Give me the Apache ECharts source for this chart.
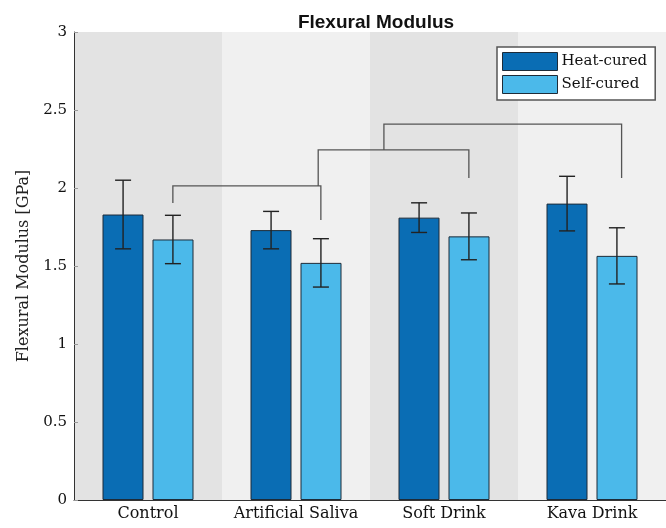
<!DOCTYPE html>
<html>
<head>
<meta charset="utf-8">
<script src="https://cdn.jsdelivr.net/npm/echarts@6/dist/echarts.min.js"></script>
<style>
  html, body { margin: 0; padding: 0; background: #ffffff; }
  #chart { width: 666px; height: 528px; }
</style>
</head>
<body>
<div id="chart"></div>
<script>
// Flexural modulus (GPa) by storage medium, mean with error bars
const categories = ['Control', 'Artificial Saliva', 'Soft Drink', 'Kava Drink'];
const seriesNames = ['Heat-cured', 'Self-cured'];
const heatCured = [1.83, 1.73, 1.81, 1.90];
const heatCuredErr = [0.22, 0.12, 0.095, 0.175];
const selfCured = [1.67, 1.52, 1.69, 1.565];
const selfCuredErr = [0.155, 0.155, 0.15, 0.18];
const yTicks = [0, 0.5, 1, 1.5, 2, 2.5, 3];

// Significance brackets: [xLeft, xRight, yTop, yLeftEnd, yRightEnd]
// x in category units (0 = first category centre)
const brackets = [
  [0.168, 1.168, 2.013, 1.904, 1.795],
  [1.15, 2.168, 2.244, 2.013, 2.064],
  [1.594, 3.2, 2.41, 2.244, 2.064]
];

const colors = ['#0a6db4', '#4bb9ea'];
const serif = '"DejaVu Serif", "Liberation Serif", serif';

const barWidth = 41;
const barGap = 9;
const catWidth = 148.5;
const barOffset = (barWidth + barGap) / 2 / catWidth;

function errData(vals, errs, sign) {
  return vals.map((v, i) => [i + sign * barOffset, v - errs[i], v + errs[i]]);
}

const chart = echarts.init(document.getElementById('chart'), null, { renderer: 'canvas' });

chart.setOption({
  backgroundColor: '#ffffff',
  animation: false,
  title: {
    text: 'Flexural Modulus',
    left: 371,
    top: 8,
    textAlign: 'center',
    textStyle: { fontFamily: '"Liberation Sans", Arial, sans-serif', fontWeight: 'bold', fontSize: 19, color: '#111' }
  },
  legend: {
    data: seriesNames,
    orient: 'vertical',
    left: 497,
    top: 47,
    icon: 'rect',
    itemWidth: 55,
    itemHeight: 18,
    itemGap: 4,
    padding: [5, 8, 6, 5],
    backgroundColor: '#ffffff',
    borderColor: '#555',
    borderWidth: 1.5,
    borderRadius: 0,
    textStyle: { fontFamily: serif, fontSize: 15, color: '#111', padding: [0, 0, 0, -1] },
    itemStyle: { borderColor: '#1d2b38', borderWidth: 1 }
  },
  grid: { left: 74, right: 0, top: 32, bottom: 28, containLabel: false },
  xAxis: [
    {
      type: 'category',
      data: categories,
      axisLine: { show: true, lineStyle: { color: '#333', width: 1 } },
      axisTick: { show: false },
      axisLabel: { fontFamily: serif, fontSize: 16, color: '#111', margin: 6, interval: 0 },
      splitArea: { show: true, areaStyle: { color: ['#e3e3e3', '#f0f0f0'] } },
      splitLine: { show: false }
    },
    {
      type: 'value',
      min: -0.5,
      max: 3.5,
      show: false
    }
  ],
  yAxis: {
    type: 'value',
    min: yTicks[0],
    max: yTicks[yTicks.length - 1],
    interval: 0.5,
    name: 'Flexural Modulus [GPa]',
    nameLocation: 'middle',
    nameGap: 34,
    nameTextStyle: { fontFamily: serif, fontSize: 16, color: '#222' },
    axisLine: { show: true, onZero: false, lineStyle: { color: '#333', width: 1 } },
    axisTick: { show: true, inside: true, length: 4, lineStyle: { color: '#999' } },
    axisLabel: { fontFamily: serif, fontSize: 15, color: '#111', margin: 7 },
    splitLine: { show: false }
  },
  series: [
    {
      name: seriesNames[0],
      type: 'bar',
      data: heatCured,
      barWidth: barWidth,
      barGap: (barGap / barWidth * 100) + '%',
      itemStyle: { color: colors[0], borderColor: '#1d2b38', borderWidth: 1 }
    },
    {
      name: seriesNames[1],
      type: 'bar',
      data: selfCured,
      barWidth: barWidth,
      itemStyle: { color: colors[1], borderColor: '#1d2b38', borderWidth: 1 }
    },
    {
      type: 'custom',
      xAxisIndex: 1,
      z: 5,
      silent: true,
      data: errData(heatCured, heatCuredErr, -1).concat(errData(selfCured, selfCuredErr, 1)),
      renderItem: function (params, api) {
        const lo = api.coord([api.value(0), api.value(1)]);
        const hi = api.coord([api.value(0), api.value(2)]);
        const cap = 8;
        const style = { stroke: '#222', lineWidth: 1.4 };
        return {
          type: 'group',
          children: [
            { type: 'line', shape: { x1: lo[0], y1: lo[1], x2: hi[0], y2: hi[1] }, style: style },
            { type: 'line', shape: { x1: hi[0] - cap, y1: hi[1], x2: hi[0] + cap, y2: hi[1] }, style: style },
            { type: 'line', shape: { x1: lo[0] - cap, y1: lo[1], x2: lo[0] + cap, y2: lo[1] }, style: style }
          ]
        };
      }
    },
    {
      type: 'custom',
      xAxisIndex: 1,
      z: 4,
      silent: true,
      data: brackets,
      renderItem: function (params, api) {
        const a = api.coord([api.value(0), api.value(3)]);
        const b = api.coord([api.value(0), api.value(2)]);
        const c = api.coord([api.value(1), api.value(2)]);
        const d = api.coord([api.value(1), api.value(4)]);
        return {
          type: 'polyline',
          shape: { points: [a, b, c, d] },
          style: { stroke: '#555', lineWidth: 1.3, fill: null }
        };
      }
    }
  ]
});
</script>
</body>
</html>
